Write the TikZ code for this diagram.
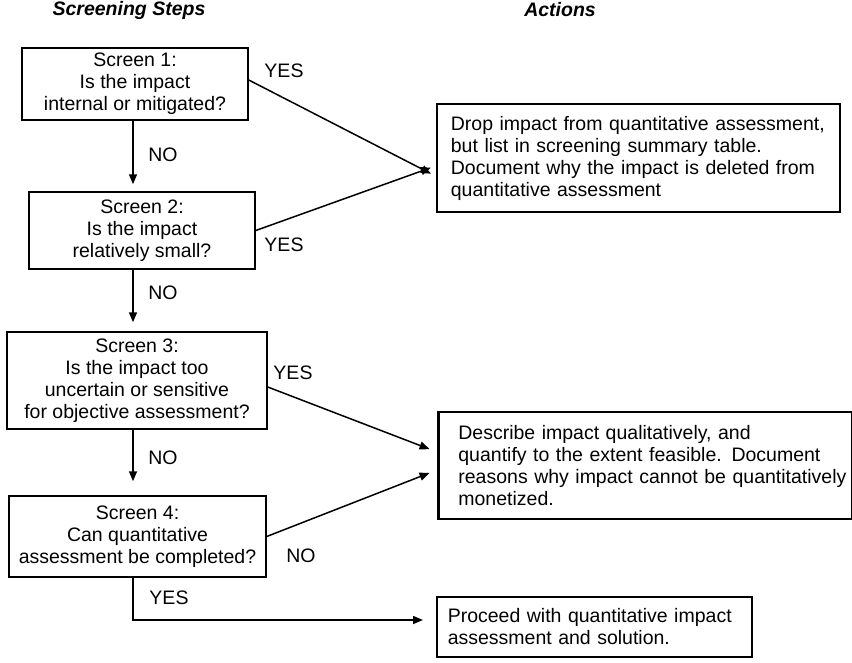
\documentclass[tikz,border=0pt]{standalone}
\usepackage{fontspec}
\setmainfont{Liberation Sans}
\usetikzlibrary{arrows.meta}
\newcommand{\mysize}{\fontsize{19.5}{22}\selectfont}
\begin{document}
\begin{tikzpicture}[x=1pt,y=-1pt,
  screenbox/.style={draw, line width=1.5pt, align=center, inner sep=0pt, font=\mysize},
  actionbox/.style={draw, line width=1.5pt, align=left, inner xsep=0pt, inner ysep=0pt, font=\mysize},
  heavy/.style={line width=2.8pt},
  conn/.style={line width=1.5pt, -{Triangle[length=10pt,width=8pt]}},
  lbl/.style={font=\mysize, inner sep=0pt},
  ttl/.style={font=\mysize\bfseries\itshape, inner sep=0pt}]
\useasboundingbox (0,0) rectangle (852,662);
\coordinate (spine) at (133,0);

\node[ttl] (t1) at (129,10) {Screening Steps};
\node[ttl] (t2) at (560,10) {Actions};

\node[screenbox, minimum width=226pt, minimum height=72pt] (b1) at (135,84)
  {Screen 1:\\Is the impact\\internal or mitigated?};
\node[screenbox, minimum width=226pt, minimum height=77pt] (b2) at (142,230.5)
  {Screen 2:\\Is the impact\\relatively small?};
\node[screenbox, minimum width=260pt, minimum height=97pt] (b3) at (137,380.5)
  {Screen 3:\\Is the impact too\\uncertain or sensitive\\for objective assessment?};
\node[screenbox, minimum width=257pt, minimum height=81pt] (b4) at (137.5,536.5)
  {Screen 4:\\Can quantitative\\assessment be completed?};

\node[actionbox, heavy, text width=403pt, minimum height=108pt, anchor=west] (a1) at (435.5,158)
  {\leftskip=14pt Drop impact from quantitative assessment,\\but list in screening summary table.\\Document why the impact is deleted from\\quantitative assessment\par};
\node[actionbox, heavy, text width=414pt, minimum height=107pt, anchor=west] (a2) at (437,465.5)
  {\leftskip=20pt Describe impact qualitatively, and\\quantify to the extent feasible. Document\\reasons why impact cannot be quantitatively\\monetized.\par};
\node[actionbox, text width=315pt, minimum height=60pt, anchor=west] (a3) at (436,627)
  {\leftskip=11pt Proceed with quantitative impact\\assessment and solution.\par};

\draw[conn, shorten >=7pt] (b1.south -| spine) -- (b2.north -| spine);
\draw[conn, shorten >=9pt] (b2.south -| spine) -- (b3.north -| spine);
\draw[conn, shorten >=14pt] (b3.south -| spine) -- (b4.north -| spine);

\draw[conn, shorten >=5pt] ([yshift=4pt]b1.east) -- ([yshift=-18pt]a1.west);
\draw[conn, shorten >=5pt] (b2.east) -- ([yshift=-8pt]a1.west);
\draw[conn, shorten >=8pt] ([yshift=-6.5pt]b3.east) -- ([yshift=13.5pt]a2.west);
\draw[conn, shorten >=8pt] (b4.east) -- ([yshift=-4.5pt]a2.west);
\draw[conn, shorten >=13pt] (b4.south -| spine) |- ([yshift=7pt]a3.west);

\node[lbl] (y1) at (284,71) {YES};
\node[lbl] (n1) at (163,155) {NO};
\node[lbl] (y2) at (284,245) {YES};
\node[lbl] (n2) at (163,293) {NO};
\node[lbl] (y3) at (293,373) {YES};
\node[lbl] (n3) at (163,458) {NO};
\node[lbl] (n4) at (301,556) {NO};
\node[lbl] (y4) at (169,598) {YES};
\end{tikzpicture}
\end{document}
